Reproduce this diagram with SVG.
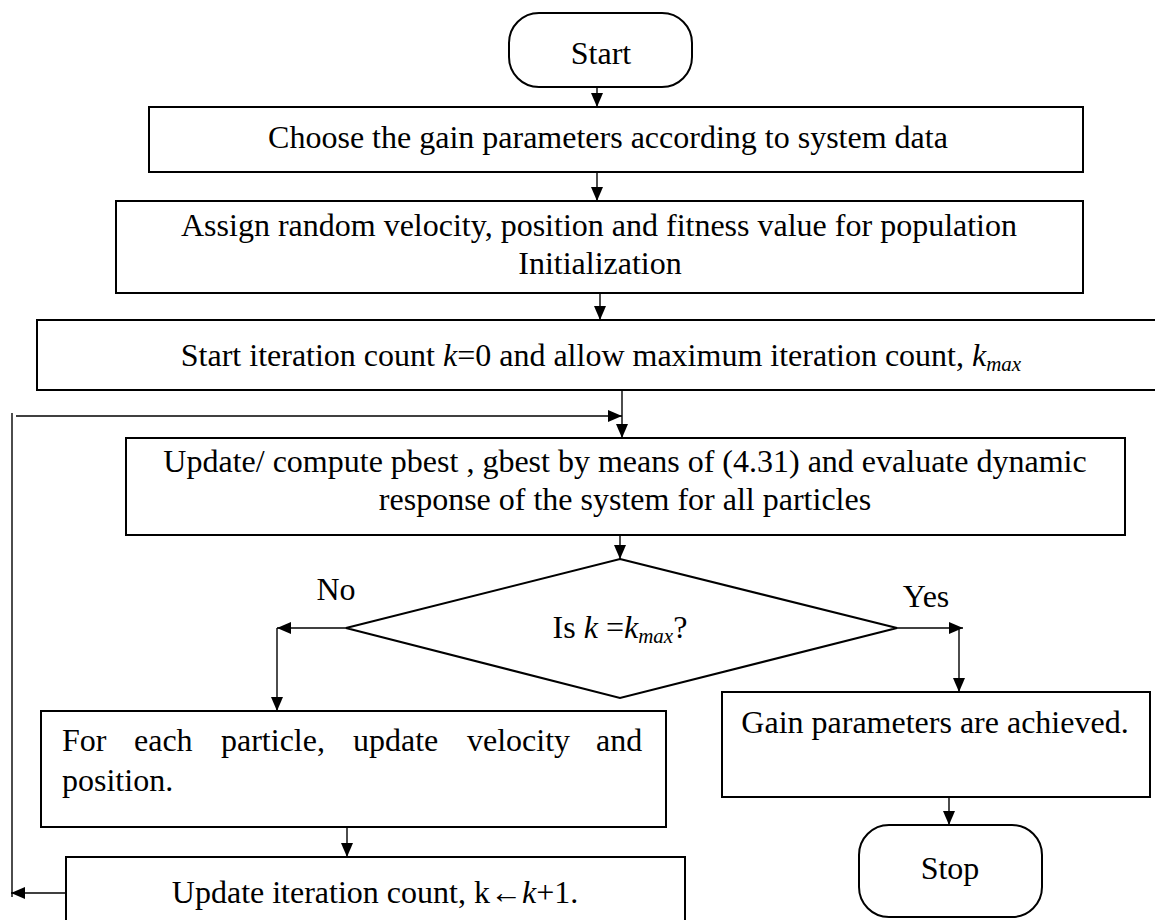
<svg xmlns="http://www.w3.org/2000/svg" width="1155" height="920" viewBox="0 0 1155 920">
<style>
.b{fill:#fff;stroke:#000;stroke-width:2}
.t{font-family:"Liberation Serif","Times New Roman",serif;font-size:32px;fill:#000}
.m{text-anchor:middle}
.c{fill:none;stroke:#000;stroke-width:1.4}
.i{font-style:italic}
.s{font-style:italic;font-size:21px}
</style>
<defs>
<marker id="ah" viewBox="0 0 14 12" refX="14" refY="6" markerWidth="14" markerHeight="12" markerUnits="userSpaceOnUse" orient="auto"><path d="M0,0 L14,6 L0,12 z" fill="#000"/></marker>
</defs>
<rect width="1155" height="920" fill="#fff"/>
<g id="connectors">
<line class="c" x1="597" y1="87" x2="597" y2="107" marker-end="url(#ah)"/>
<line class="c" x1="597" y1="172" x2="597" y2="201" marker-end="url(#ah)"/>
<line class="c" x1="600" y1="293" x2="600" y2="320" marker-end="url(#ah)"/>
<line class="c" x1="622" y1="390" x2="622" y2="438" marker-end="url(#ah)"/>
<line class="c" x1="16" y1="416" x2="622" y2="416" marker-end="url(#ah)"/>
<line class="c" x1="12" y1="413" x2="12" y2="897"/>
<line class="c" x1="66" y1="893" x2="11" y2="893" marker-end="url(#ah)"/>
<line class="c" x1="620" y1="535" x2="620" y2="559" marker-end="url(#ah)"/>
<line class="c" x1="346" y1="628" x2="277" y2="628" marker-end="url(#ah)"/>
<line class="c" x1="277" y1="628" x2="277" y2="711" marker-end="url(#ah)"/>
<line class="c" x1="897" y1="628" x2="963" y2="628" marker-end="url(#ah)"/>
<line class="c" x1="959" y1="628" x2="959" y2="692" marker-end="url(#ah)"/>
<line class="c" x1="347" y1="827" x2="347" y2="857" marker-end="url(#ah)"/>
<line class="c" x1="949" y1="797" x2="949" y2="825" marker-end="url(#ah)"/>
</g>
<g id="start">
<rect class="b" x="509" y="13" width="183" height="74" rx="30" ry="30"/>
<text class="t m" x="601" y="64">Start</text>
</g>
<g id="choose">
<rect class="b" x="149" y="107" width="934" height="65"/>
<text class="t m" x="608" y="148">Choose the gain parameters according to system data</text>
</g>
<g id="assign">
<rect class="b" x="116" y="201" width="967" height="92"/>
<text class="t m" x="599" y="236">Assign random velocity, position and fitness value for population</text>
<text class="t m" x="600" y="274">Initialization</text>
</g>
<g id="startiter">
<rect class="b" x="37" y="320" width="1130" height="70"/>
<text class="t m" x="601" y="366">Start iteration count <tspan class="i">k</tspan>=0 and allow maximum iteration count, <tspan class="i">k</tspan><tspan class="s" dy="5">max</tspan></text>
</g>
<g id="update">
<rect class="b" x="126" y="438" width="999" height="97"/>
<text class="t m" x="625" y="472">Update/ compute pbest , gbest by means of (4.31) and evaluate dynamic</text>
<text class="t m" x="625" y="510">response of the system for all particles</text>
</g>
<g id="decision">
<polygon class="b" points="620,559 897,628 620,698 346,628"/>
<text class="t m" x="620" y="638">Is <tspan class="i">k</tspan> =<tspan class="i">k</tspan><tspan class="s" dy="5">max</tspan><tspan dy="-5">?</tspan></text>
</g>
<g id="labels">
<text class="t m" x="336" y="600">No</text>
<text class="t m" x="926" y="607">Yes</text>
</g>
<g id="foreach">
<rect class="b" x="41" y="711" width="625" height="116"/>
<text class="t" y="751"><tspan x="62">For</tspan><tspan x="134">each</tspan><tspan x="221">particle,</tspan><tspan x="353">update</tspan><tspan x="467">velocity</tspan><tspan x="596">and</tspan></text>
<text class="t" x="62" y="791">position.</text>
</g>
<g id="increment">
<rect class="b" x="66" y="857" width="619" height="70"/>
<text class="t m" x="375" y="903">Update iteration count, k←<tspan class="i">k</tspan>+1.</text>
</g>
<g id="achieved">
<rect class="b" x="722" y="692" width="428" height="105"/>
<text class="t m" x="935" y="733">Gain parameters are achieved.</text>
</g>
<g id="stop">
<rect class="b" x="859" y="825" width="183" height="92" rx="30" ry="30"/>
<text class="t m" x="950" y="879">Stop</text>
</g>
</svg>
